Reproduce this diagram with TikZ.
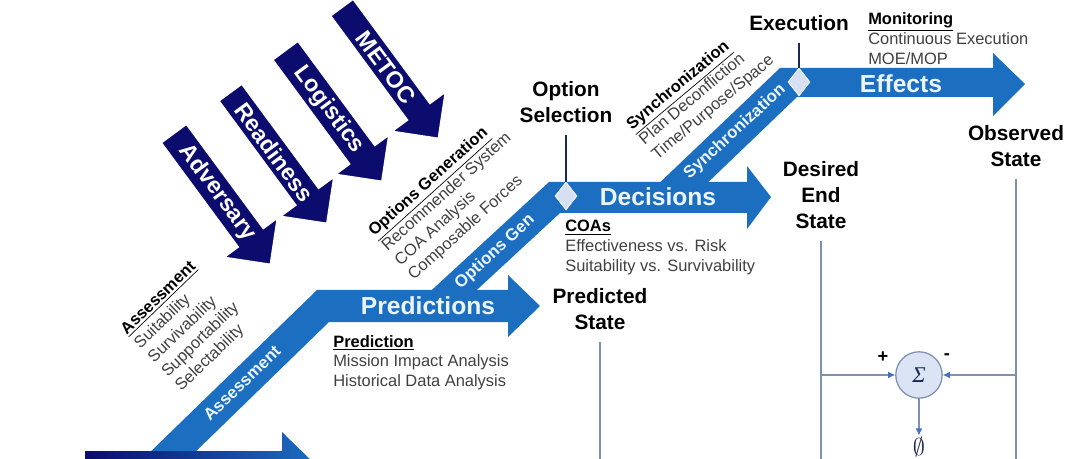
\documentclass[tikz,border=0pt]{standalone}
\usepackage{fontspec}
\setmainfont{Liberation Sans}
\newfontfamily\greekserif{Liberation Serif}
\usepackage{amsmath}
\usetikzlibrary{arrows.meta,shapes.geometric,shapes.arrows}
\definecolor{bandblue}{RGB}{28,110,192}
\definecolor{bandtxt}{RGB}{235,245,255}
\definecolor{factornavy}{RGB}{12,12,110}
\definecolor{infogray}{RGB}{64,64,64}
\definecolor{gatefill}{RGB}{214,224,242}
\definecolor{stemnavy}{RGB}{28,40,80}
\definecolor{feedgray}{RGB}{128,144,176}
\definecolor{feedblue}{RGB}{68,114,196}
\definecolor{sumfill}{RGB}{218,228,244}
\newcommand{\infohead}[1]{{\color{black}\bfseries\underline{#1}}}

\begin{document}
\begin{tikzpicture}[x=0.025cm,y=-0.025cm,
    band/.style={fill=bandblue},
    bandtext/.style={text=bandtxt,font=\fontsize{17.5}{21}\selectfont\bfseries},
    slanttext/.style={text=bandtxt,font=\fontsize{12}{14}\selectfont\bfseries},
    factor/.style={shape=single arrow,fill=factornavy,draw=white,line width=1pt,text=white,
        font=\fontsize{16.5}{20}\selectfont\bfseries,rotate=-53.6,anchor=tail,
        minimum height=115.5pt,minimum width=46.8pt,single arrow head extend=11.4pt,inner ysep=2pt},
    info/.style={align=left,inner sep=0pt,text=infogray,font=\fontsize{11.7}{14}\selectfont},
    statelabel/.style={align=center,inner sep=0pt,font=\fontsize{14.8}{18.4}\selectfont\bfseries},
    gate/.style={shape=diamond,fill=gatefill,draw=white,line width=0.6pt,
        minimum width=15.6pt,minimum height=19.8pt,inner sep=0pt},
    stemline/.style={draw=stemnavy,line width=1.2pt,shorten <=8.5pt},
    feed/.style={draw=feedgray,line width=0.9pt},
    feedarrow/.style={feed,-{Latex[length=5pt,width=5pt,color=feedblue]}},
    signlabel/.style={inner sep=0pt,font=\fontsize{13}{15}\selectfont\bfseries}]
    \useasboundingbox (0,0) rectangle (1080,459);
    \clip (0,0) rectangle (1080,459);

    \fill[band] (652,190) -- (780,68) -- (993,68) -- (993,53) -- (1025,84) -- (993,116)
        -- (993,97) -- (797,97) -- (700,190) -- cycle;
    \fill[band] (421,300) -- (549,182) -- (747,182) -- (747,166) -- (771,197) -- (747,229)
        -- (747,213) -- (560,213) -- (466,300) -- cycle;
    \fill[band] (143,459) -- (317,290) -- (508,290) -- (508,275) -- (540,306) -- (508,337)
        -- (508,322) -- (329,322) -- (188,459) -- cycle;
    \shade[left color=factornavy,right color=bandblue] (85,451) -- (282,451) -- (282,432)
        -- (318,467) -- (282,502) -- (282,483) -- (85,483) -- cycle;

    \node[bandtext] (predband) at (428,306) {Predictions};
    \node[bandtext] (decband) at (658,197) {Decisions};
    \node[bandtext] (effband) at (901,84) {Effects};
    \node[slanttext,rotate=44] (assband) at (242,383) {Assessment};
    \node[slanttext,rotate=42.5] (optband) at (495,252) {Options Gen};
    \node[slanttext,rotate=42.5] (synband) at (735,132) {Synchronization};

    \node[factor] (metoc) at (341.5,7) {METOC};
    \node[factor] (logistics) at (285,50) {Logistics};
    \node[factor] (readiness) at (230,92) {Readiness};
    \node[factor] (adversary) at (173.5,133) {Adversary};

    \node[info,rotate=44,anchor=north west] (assinfo) at (118.5,327)
        {\infohead{Assessment}\\Suitability\\Survivability\\Supportability\\Selectability};
    \node[info,rotate=42,anchor=north west] (optinfo) at (366,228)
        {\infohead{Options Generation}\\Recommender System\\COA Analysis\\Composable Forces};
    \node[info,rotate=40,anchor=north west] (syninfo) at (624,121)
        {\infohead{Synchronization}\\Plan Deconfliction\\Time/Purpose/Space};
    \node[info,anchor=north west] (predinfo) at (333,335)
        {\infohead{Prediction}\\Mission Impact Analysis\\Historical Data Analysis};
    \node[info,anchor=north west] (coainfo) at (565,220)
        {\infohead{COAs}\\Effectiveness vs. Risk\\Suitability vs. Survivability};
    \node[info,anchor=north west] (moninfo) at (868,12.5)
        {\infohead{Monitoring}\\Continuous Execution\\MOE/MOP};

    \node[statelabel,anchor=north] (optsel) at (566,81) {Option\\Selection};
    \node[gate] (optgate) at (566,196) {};
    \draw[stemline] (optsel.south) -- (optgate.north);
    \node[statelabel,anchor=base] (exec) at (799,31) {Execution};
    \node[gate] (execgate) at (799,82) {};
    \draw[stemline] (exec.south) -- (execgate.north);

    \node[statelabel,anchor=north] (predstate) at (600,288) {Predicted\\State};
    \node[statelabel,anchor=north] (endstate) at (821,161.5) {Desired\\End\\State};
    \node[statelabel,anchor=north] (obsstate) at (1016,125) {Observed\\State};
    \coordinate (predfoot) at (600,459);
    \coordinate (endfoot) at (821,459);
    \coordinate (obsfoot) at (1016,459);
    \draw[feed,shorten <=8.5pt] (predstate.south) -- (predfoot);
    \draw[feed,shorten <=8.5pt] (endstate.south) -- (endfoot);
    \draw[feed,shorten <=8.5pt] (obsstate.south) -- (obsfoot);

    \node[shape=circle,fill=sumfill,draw=feedgray,line width=0.9pt,minimum size=33pt,inner sep=0pt,
        text=stemnavy,font=\fontsize{16}{18}\selectfont\greekserif\itshape] (sum) at (919,375) {Σ};
    \node[inner sep=1pt,text=stemnavy,font=\fontsize{18}{20}\selectfont] (nullset) at (919,447) {$\emptyset$};
    \draw[feedarrow] (endstate.south |- sum) -- (sum.west);
    \draw[feedarrow] (obsstate.south |- sum) -- (sum.east);
    \draw[feedarrow] (sum.south) -- (nullset.north);
    \node[signlabel] (plus) at (883,357) {+};
    \node[signlabel] (minus) at (947,357) {-};
\end{tikzpicture}
\end{document}
